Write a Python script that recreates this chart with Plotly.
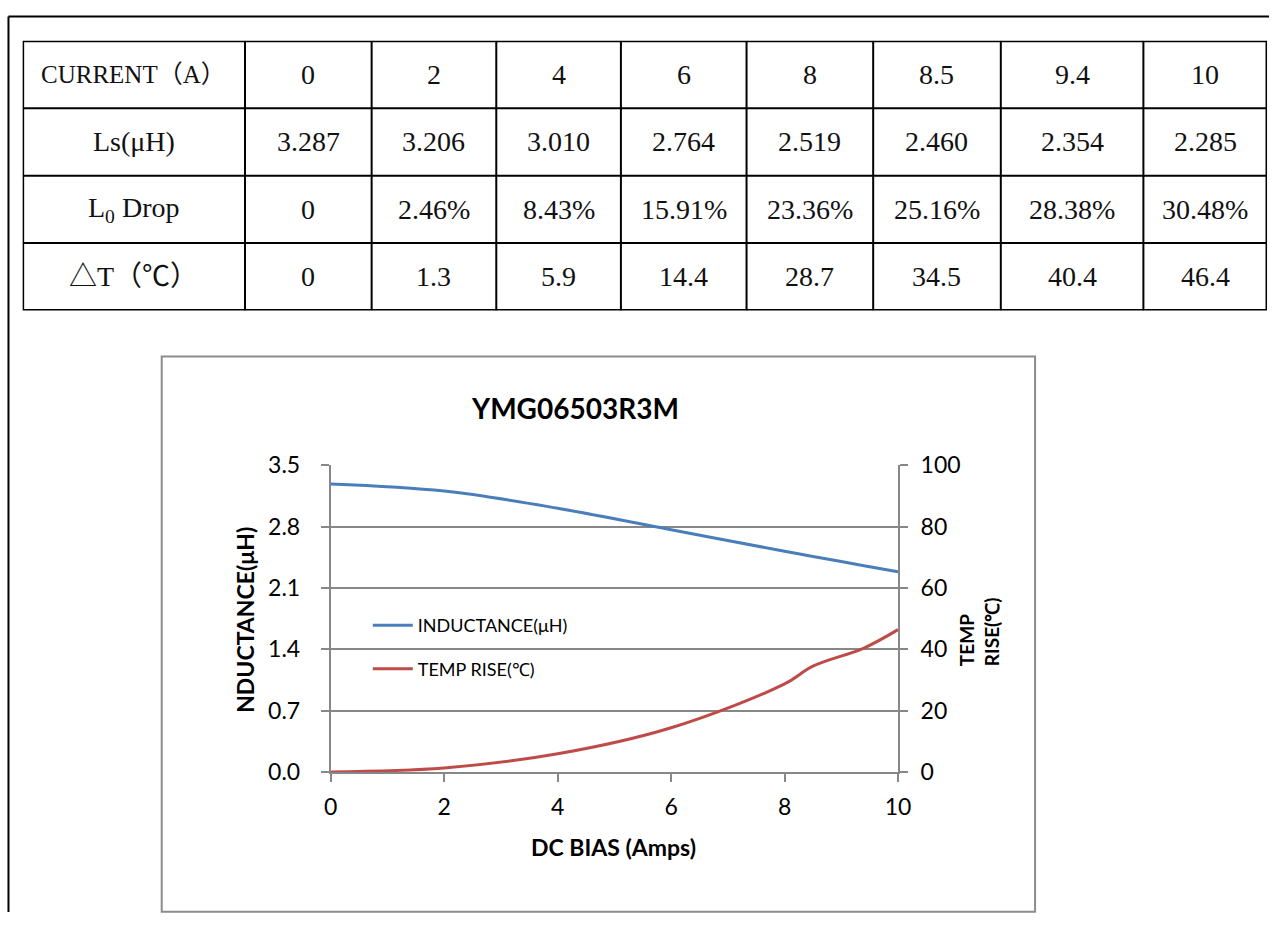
import plotly.graph_objects as go

# ---------------- data ----------------
current_a = [0, 2, 4, 6, 8, 8.5, 9.4, 10]
ls_uh = [3.287, 3.206, 3.010, 2.764, 2.519, 2.460, 2.354, 2.285]
l0_drop_pct = [0, 2.46, 8.43, 15.91, 23.36, 25.16, 28.38, 30.48]
temp_rise_c = [0, 1.3, 5.9, 14.4, 28.7, 34.5, 40.4, 46.4]

row_labels = ["CURRENT（A）", "Ls(μH)", "L<sub>0</sub> Drop", "△T（℃）"]
chart_title = "YMG06503R3M"
left_ticks = [0.0, 0.7, 1.4, 2.1, 2.8, 3.5]
right_ticks = [0, 20, 40, 60, 80, 100]
x_ticks = [0, 2, 4, 6, 8, 10]

# ---------------- layout constants ----------------
W, H = 1282, 925
# empirical page->picture calibration of the capture
SX, CX = 0.984, 6.35
SY, CY = 0.971, 14.1

def clamp(v, lo, hi):
    return max(lo, min(hi, v))

def px(x):
    return clamp(((x - CX) / SX) / W, 0.0, 1.0)

def py(y):
    return clamp(1 - ((y - CY) / SY) / H, 0.0, 1.0)

col_widths = [223, 127, 125, 125, 126, 127, 128, 143, 124]
col_edges = [0]
for w in col_widths:
    col_edges.append(col_edges[-1] + w)

BLUE = "#4A7EBB"
RED = "#BE4B48"
GRID = "#878787"
CHART_FONT = "Lato, Open Sans, sans-serif"
TABLE_FONT = "Liberation Serif, Noto Sans CJK SC, serif"

fig = go.Figure()

fig.add_trace(go.Scatter(
    x=current_a, y=ls_uh, name="INDUCTANCE(μH)", mode="lines",
    line=dict(color=BLUE, width=3, shape="spline", smoothing=1.0),
    legendgroup="a", xaxis="x", yaxis="y"))
fig.add_trace(go.Scatter(
    x=current_a, y=temp_rise_c, name="TEMP RISE(℃)", mode="lines",
    line=dict(color=RED, width=3, shape="spline", smoothing=1.0),
    legendgroup="b", xaxis="x", yaxis="y2"))

# ---------------- table (drawn on its own hidden axes) ----------------
def fmt_num(v, nd):
    if v == 0:
        return "0"
    return f"{v:.{nd}f}"

table_rows = [
    [row_labels[0]] + [f"{c:g}" for c in current_a],
    [row_labels[1]] + [f"{v:.3f}" for v in ls_uh],
    [row_labels[2]] + [("0" if v == 0 else f"{v:.2f}%") for v in l0_drop_pct],
    [row_labels[3]] + [fmt_num(v, 1) for v in temp_rise_c],
]

annotations = []
shapes = []
for r, row in enumerate(table_rows):
    for c, txt in enumerate(row):
        size = 25 if (r == 0 and c == 0) else 28
        annotations.append(dict(
            x=(col_edges[c] + col_edges[c + 1]) / 2, y=r + 0.5,
            xref="x3", yref="y3", text=txt, showarrow=False,
            font=dict(family=TABLE_FONT, size=size, color="#111111"),
            xanchor="center", yanchor="middle"))

for r in range(1, len(table_rows)):
    shapes.append(dict(type="line", xref="x3", yref="y3",
                       x0=col_edges[0], x1=col_edges[-1], y0=r, y1=r,
                       line=dict(color="black", width=2)))
for e in col_edges[1:-1]:
    shapes.append(dict(type="line", xref="x3", yref="y3",
                       x0=e, x1=e, y0=0, y1=len(table_rows),
                       line=dict(color="black", width=2)))
shapes.append(dict(type="rect", xref="x3", yref="y3",
                   x0=col_edges[0], x1=col_edges[-1], y0=0, y1=len(table_rows),
                   line=dict(color="black", width=3)))

# page border (top + left)
top_y = 1 - 1.5 / H
left_x = max(px(7), 1.5 / W)
shapes.append(dict(type="line", xref="paper", yref="paper",
                   x0=left_x, x1=1.0, y0=top_y, y1=top_y,
                   line=dict(color="black", width=2)))
shapes.append(dict(type="line", xref="paper", yref="paper",
                   x0=left_x, x1=left_x, y0=top_y, y1=0,
                   line=dict(color="black", width=2)))
# chart area border
shapes.append(dict(type="rect", xref="paper", yref="paper",
                   x0=px(161), x1=px(1034), y0=py(912), y1=py(356),
                   line=dict(color="#8C8C8C", width=2)))

# chart texts
annotations.append(dict(text=chart_title, xref="paper", yref="paper",
                        x=px(574), y=py(408), showarrow=False,
                        xanchor="center", yanchor="middle",
                        font=dict(family=CHART_FONT, size=28, color="black", weight="bold")))
annotations.append(dict(text="NDUCTANCE(μH)", xref="paper", yref="paper",
                        x=px(244), y=py(620), showarrow=False, textangle=-90,
                        xanchor="center", yanchor="middle",
                        font=dict(family=CHART_FONT, size=23, color="black", weight="bold")))
annotations.append(dict(text="TEMP<br>RISE(℃)", xref="paper", yref="paper",
                        x=px(978), y=py(632), showarrow=False, textangle=-90,
                        align="left", xanchor="center", yanchor="middle",
                        font=dict(family=CHART_FONT, size=19, color="black", weight="bold")))
annotations.append(dict(text="DC BIAS (Amps)", xref="paper", yref="paper",
                        x=px(613), y=py(847), showarrow=False,
                        xanchor="center", yanchor="middle",
                        font=dict(family=CHART_FONT, size=23, color="black", weight="bold")))

axis_common = dict(showline=True, linecolor=GRID, linewidth=2,
                   ticks="outside", ticklen=8, tickwidth=2, tickcolor=GRID,
                   tickfont=dict(family=CHART_FONT, size=23, color="black"),
                   zeroline=False)

fig.update_layout(
    width=W, height=H,
    margin=dict(l=0, r=0, t=0, b=0),
    paper_bgcolor="white", plot_bgcolor="white",
    showlegend=True,
    legend=dict(x=px(367), y=py(607), xanchor="left", yanchor="top",
                bgcolor="rgba(0,0,0,0)", traceorder="grouped", tracegroupgap=17,
                font=dict(family=CHART_FONT, size=18, color="black"),
                itemwidth=40),
    xaxis=dict(domain=[px(330), px(897)], range=[0, 10], tickvals=x_ticks,
               showgrid=False, anchor="y", ticklabelstandoff=5, **axis_common),
    yaxis=dict(domain=[py(772), py(465)], range=[0, 3.5], tickvals=left_ticks,
               ticktext=[f"{v:.1f}" for v in left_ticks],
               showgrid=True, gridcolor=GRID, gridwidth=2, anchor="x",
               ticklabelstandoff=16, **axis_common),
    yaxis2=dict(domain=[py(772), py(465)], range=[0, 100], tickvals=right_ticks,
                overlaying="y", side="right", anchor="x", showgrid=False,
                ticklabelstandoff=8, **axis_common),
    xaxis3=dict(domain=[px(22), min(px(1270), 1 - 2.0 / W)],
                range=[col_edges[0], col_edges[-1]],
                visible=False, anchor="y3", fixedrange=True),
    yaxis3=dict(domain=[py(310), py(40)], range=[len(table_rows), 0],
                visible=False, anchor="x3", fixedrange=True),
    annotations=annotations,
    shapes=shapes,
)

fig.write_html("out.html", config={"displayModeBar": False},
               post_script="document.body.style.margin='0';document.body.style.overflow='hidden';")
